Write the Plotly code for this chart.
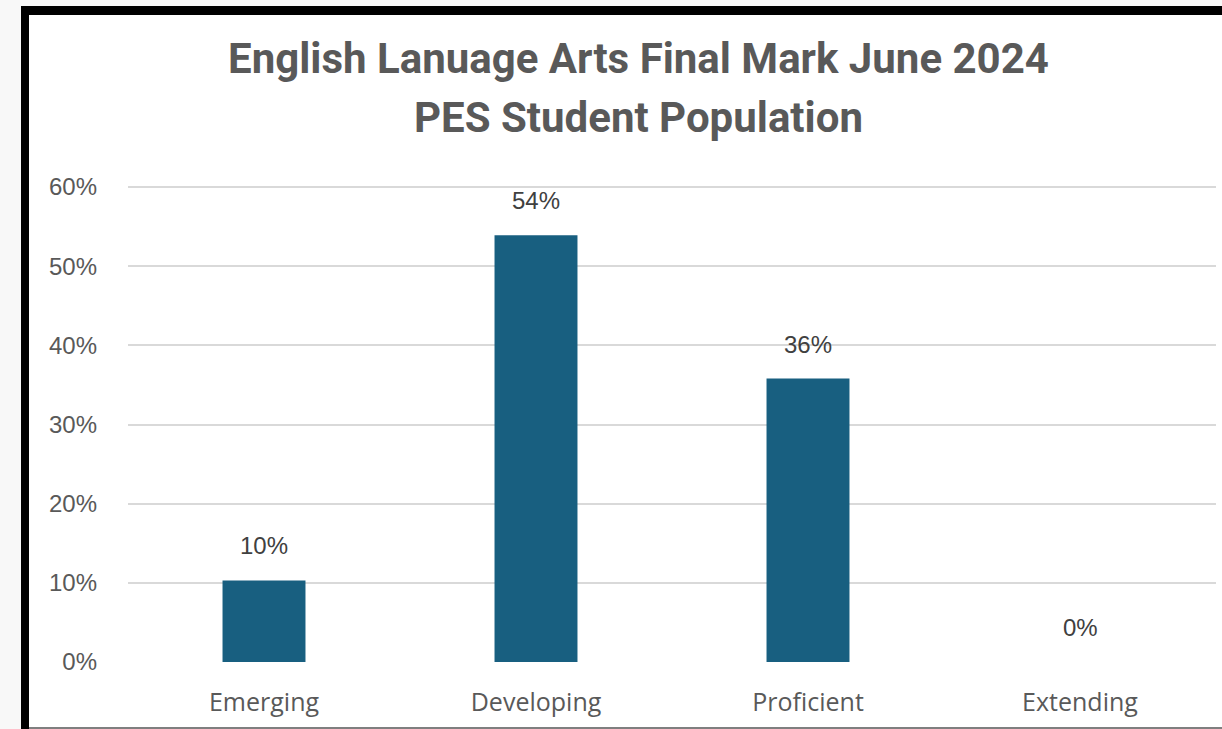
import plotly.graph_objects as go

categories = ["Emerging", "Developing", "Proficient", "Extending"]
values = [0.103, 0.539, 0.358, 0.0]
labels = ["10%", "54%", "36%", "0%"]
tick_vals = [0, 0.1, 0.2, 0.3, 0.4, 0.5, 0.6]
tick_text = ["0%", "10%", "20%", "30%", "40%", "50%", "60%"]
title_lines = ["English Lanuage Arts Final Mark June 2024", "PES Student Population"]

W, H = 1222, 729
L, R, T, B = 128, 6, 186, 67
PW, PH = W - L - R, H - T - B

def px(x):
    return (x - L) / PW

def py(y):
    return (H - B - y) / PH

fig = go.Figure()
fig.add_trace(go.Bar(
    x=categories, y=values,
    marker=dict(color="#185f80", line=dict(width=0)),
    width=0.305,
    hoverinfo="skip",
))

for c, v, t in zip(categories, values, labels):
    fig.add_annotation(
        x=c, y=v, text=t, showarrow=False, yanchor="bottom", yshift=19,
        font=dict(family="Liberation Sans, Arial", size=24, color="#404040"),
    )

for line, yc in zip(title_lines, [58, 117]):
    fig.add_annotation(
        xref="paper", yref="paper", x=px(638), y=py(yc), text=line,
        showarrow=False, xanchor="center", yanchor="middle",
        font=dict(family="Roboto", size=42, color="#595959", weight="bold"),
    )

shapes = [
    dict(type="rect", xref="paper", yref="paper", x0=px(0), x1=px(W), y0=py(0), y1=py(6),
         fillcolor="#f8f8f8", line=dict(width=0), layer="below"),
    dict(type="rect", xref="paper", yref="paper", x0=px(0), x1=px(21), y0=py(0), y1=py(H),
         fillcolor="#f8f8f8", line=dict(width=0), layer="below"),
    dict(type="rect", xref="paper", yref="paper", x0=px(21), x1=px(W), y0=py(6), y1=py(15),
         fillcolor="black", line=dict(width=0)),
    dict(type="rect", xref="paper", yref="paper", x0=px(21), x1=px(29), y0=py(6), y1=py(H),
         fillcolor="black", line=dict(width=0)),
    dict(type="line", xref="paper", yref="paper", x0=px(29), x1=px(W), y0=py(728), y1=py(728),
         line=dict(color="#555555", width=1.5)),
]

fig.update_layout(
    width=W, height=H,
    margin=dict(l=L, r=R, t=T, b=B, pad=0),
    paper_bgcolor="white", plot_bgcolor="white",
    showlegend=False,
    bargap=0.695,
    xaxis=dict(
        showgrid=False, showline=False, ticks="",
        tickfont=dict(family="Open Sans", size=25, color="#595959"),
        ticklabelstandoff=23,
        range=[-0.5, 3.5],
    ),
    yaxis=dict(
        range=[0, 0.6013],
        tickvals=tick_vals, ticktext=tick_text,
        showgrid=True, gridcolor="#d9d9d9", gridwidth=2,
        zeroline=False, showline=False, ticks="",
        tickfont=dict(family="Liberation Sans, Arial", size=24, color="#595959"),
        ticklabelstandoff=30,
    ),
    shapes=shapes,
)

fig.write_html("out.html")
